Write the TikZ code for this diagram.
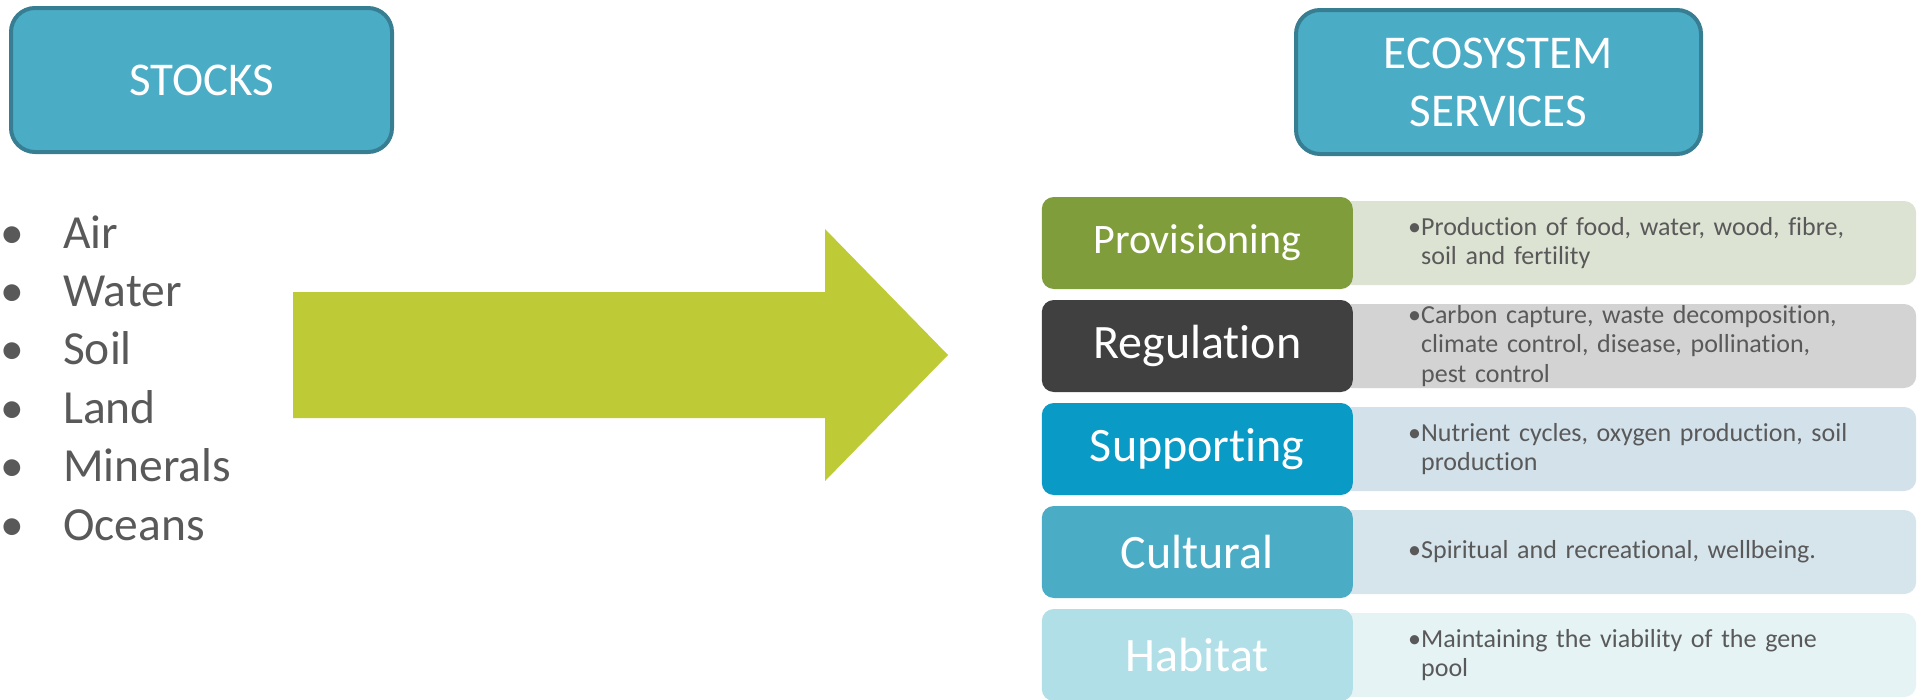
\documentclass[tikz,border=0pt]{standalone}
\usepackage{fontspec}
\setmainfont{Carlito}[Ligatures=NoCommon]
\usetikzlibrary{positioning}

\definecolor{titlefill}{RGB}{75,172,198}
\definecolor{titleline}{RGB}{55,126,146}
\definecolor{arrowgreen}{RGB}{191,202,55}
\definecolor{itemgrey}{RGB}{89,89,89}
\definecolor{provfill}{RGB}{128,157,59}
\definecolor{provback}{RGB}{220,227,211}
\definecolor{regfill}{RGB}{64,64,64}
\definecolor{regback}{RGB}{211,211,211}
\definecolor{supfill}{RGB}{9,155,198}
\definecolor{supback}{RGB}{210,225,234}
\definecolor{culfill}{RGB}{75,172,198}
\definecolor{culback}{RGB}{214,229,235}
\definecolor{habfill}{RGB}{176,223,231}
\definecolor{habback}{RGB}{229,243,245}

\newcommand{\itembul}{\makebox[63pt][l]{\textbullet}}
\newcommand{\indentbul}{\phantom{\textbullet}}

\tikzset{
  headbox/.style={draw=titleline, line width=4pt, fill=titlefill, rounded corners=24pt,
    minimum width=381pt, minimum height=144pt, text=white, align=center,
    font=\fontsize{47}{58}\selectfont},
  stock/.style={text=itemgrey, anchor=west, inner sep=0pt, text height=44pt, text depth=14pt,
    font=\fontsize{47.5}{58}\selectfont},
  service/.style={fill=#1, rounded corners=12pt, minimum width=311pt, minimum height=92pt,
    text=white, font=\fontsize{48}{58}\selectfont},
  detail/.style={fill=#1, rounded corners=12pt, minimum width=576pt, minimum height=84pt,
    text width=440pt, inner xsep=68pt, inner ysep=0pt, align=left, anchor=west, text=itemgrey,
    font=\fontsize{26}{29.5}\selectfont},
  bigarrow/.style={fill=arrowgreen}
}

\begin{document}
\begin{tikzpicture}[x=1pt, y=-1pt]
  \useasboundingbox (0,0) rectangle (1921,699);

  % Define nodes
  \node[headbox] (stocks) at (201.5,80) {STOCKS};
  \node[headbox, minimum width=405pt] (services) at (1498.5,82) {ECOSYSTEM\\SERVICES};

  \node[stock] (air) at (0,233) {\itembul Air};
  \node[stock, below=0pt of air.south west, anchor=north west] (water) {\itembul Water};
  \node[stock, below=0pt of water.south west, anchor=north west] (soil) {\itembul Soil};
  \node[stock, below=0pt of soil.south west, anchor=north west] (land) {\itembul Land};
  \node[stock, below=0pt of land.south west, anchor=north west] (minerals) {\itembul Minerals};
  \node[stock, below=0pt of minerals.south west, anchor=north west] (oceans) {\itembul Oceans};

  % Big arrow
  \fill[bigarrow] (293,292) -- (825,292) -- (825,229) -- (948,355) -- (825,481) -- (825,418) -- (293,418) -- cycle;

  % Service details
  \node[detail=provback] (provtxt) at (1340,243)
    {\textbullet Production of food, water, wood, fibre,\\\indentbul soil and fertility};
  \node[detail=regback] (regtxt) at (1340,346)
    {\textbullet Carbon capture, waste decomposition,\\\indentbul climate control, disease, pollination,\\\indentbul pest control};
  \node[detail=supback] (suptxt) at (1340,449)
    {\textbullet Nutrient cycles, oxygen production, soil\\\indentbul production};
  \node[detail=culback] (cultxt) at (1340,552)
    {\textbullet Spiritual and recreational, wellbeing.};
  \node[detail=habback] (habtxt) at (1340,655)
    {\textbullet Maintaining the viability of the gene\\\indentbul pool};

  % Service labels
  \node[service=provfill, left=-13pt of provtxt, font=\fontsize{42}{50}\selectfont] (prov) {Provisioning};
  \node[service=regfill, left=-13pt of regtxt] (reg) {Regulation};
  \node[service=supfill, left=-13pt of suptxt] (sup) {Supporting};
  \node[service=culfill, left=-13pt of cultxt] (cul) {Cultural};
  \node[service=habfill, left=-13pt of habtxt] (hab) {Habitat};
\end{tikzpicture}
\end{document}
